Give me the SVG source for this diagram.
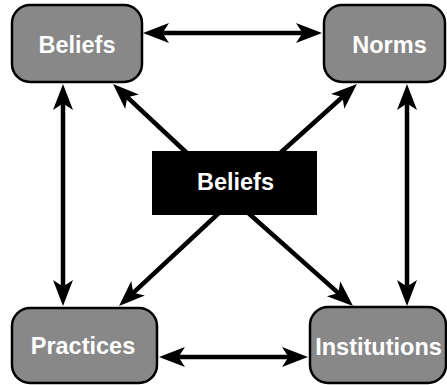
<svg xmlns="http://www.w3.org/2000/svg" width="447" height="385" viewBox="0 0 447 385">
<defs>
<style>
.node rect{fill:#888888;stroke:#000;stroke-width:2.5}
.lbl{font-family:"Liberation Sans",Arial,sans-serif;font-weight:bold;font-size:23.5px;fill:#fff;text-anchor:middle}
.conn path{stroke:#000;stroke-width:4.5;fill:none}
</style>
<marker id="ah" markerUnits="userSpaceOnUse" viewBox="-12 -11 28 22" refX="0" refY="0" markerWidth="28" markerHeight="22" orient="auto-start-reverse">
<path d="M15,0 L-11,-10 L-4.5,0 L-11,10 Z" fill="#000"/>
</marker>
</defs>
<rect width="447" height="385" fill="#fff"/>
<g id="connectors" class="conn">
<path d="M158,33 L307,33" marker-start="url(#ah)" marker-end="url(#ah)"/>
<path d="M63,99 L63,291" marker-start="url(#ah)" marker-end="url(#ah)"/>
<path d="M407,99 L407,291" marker-start="url(#ah)" marker-end="url(#ah)"/>
<path d="M174,357 L293,357" marker-start="url(#ah)" marker-end="url(#ah)"/>
<path d="M189,155 L124,94.2" marker-end="url(#ah)"/>
<path d="M278,155 L345.8,94" marker-end="url(#ah)"/>
<path d="M221,211 L130,295.8" marker-end="url(#ah)"/>
<path d="M246,211 L341.8,296.1" marker-end="url(#ah)"/>
</g>
<g id="node-beliefs" class="node">
<rect x="12" y="5" width="130" height="77" rx="18"/>
<text class="lbl" x="77" y="53">Beliefs</text>
</g>
<g id="node-norms" class="node">
<rect x="324" y="5" width="121" height="77" rx="18"/>
<text class="lbl" x="389.5" y="53">Norms</text>
</g>
<g id="node-practices" class="node">
<rect x="12" y="308" width="145" height="75" rx="18"/>
<text class="lbl" x="83" y="354">Practices</text>
</g>
<g id="node-institutions" class="node">
<rect x="310" y="307" width="136" height="76" rx="18"/>
<text class="lbl" x="378.5" y="355">Institutions</text>
</g>
<g id="node-center">
<rect x="152" y="151" width="165" height="64" fill="#000"/>
<text class="lbl" x="235.5" y="190">Beliefs</text>
</g>
</svg>
